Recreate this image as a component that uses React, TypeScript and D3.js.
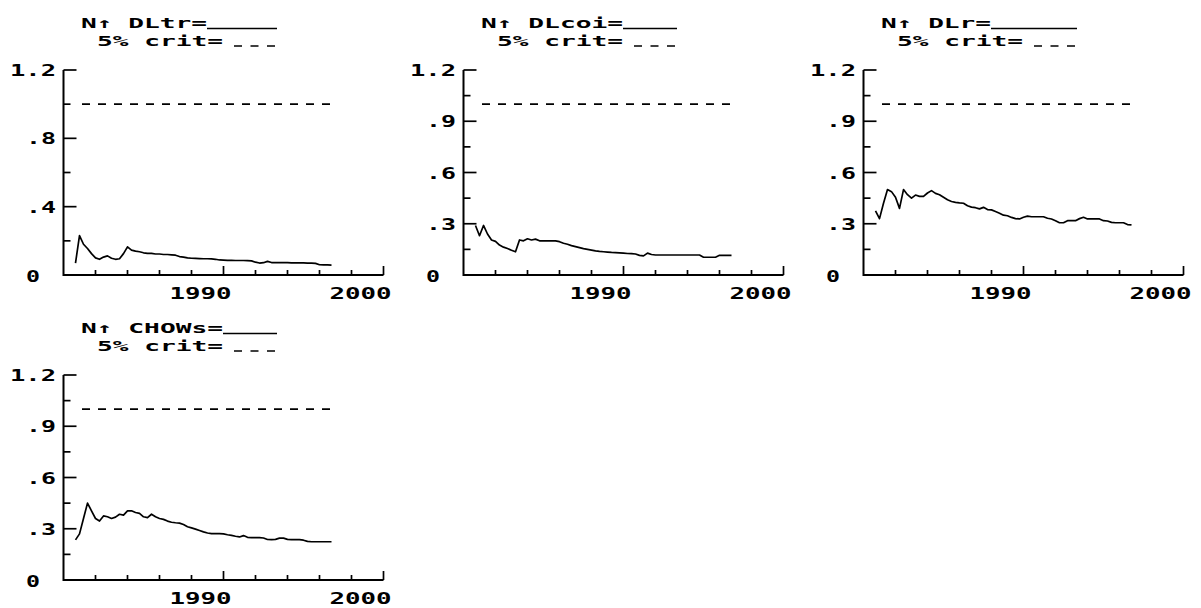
import React from 'react';
import * as d3 from 'd3';

// quarterly observations, first one is 1980 Q4
const firstDate = 1980.75;
const critValue = 1.0;

const dlTr = [
  0.07, 0.23, 0.18, 0.155, 0.125, 0.1, 0.092, 0.105, 0.112, 0.098,
  0.092, 0.095, 0.125, 0.165, 0.146, 0.14, 0.136, 0.13, 0.127, 0.127,
  0.123, 0.123, 0.12, 0.12, 0.118, 0.116, 0.108, 0.105, 0.1, 0.098,
  0.097, 0.096, 0.095, 0.095, 0.094, 0.092, 0.088, 0.087, 0.086, 0.086,
  0.085, 0.085, 0.085, 0.084, 0.083, 0.075, 0.07, 0.072, 0.08, 0.073,
  0.072, 0.072, 0.072, 0.072, 0.071, 0.071, 0.071, 0.071, 0.07, 0.07,
  0.068, 0.06, 0.059, 0.059, 0.058,
];

const dlCoi = [
  0.29, 0.23, 0.29, 0.24, 0.205, 0.197, 0.175, 0.163, 0.155, 0.145,
  0.136, 0.205, 0.2, 0.212, 0.205, 0.21, 0.2, 0.2, 0.2, 0.2,
  0.2, 0.195, 0.186, 0.18, 0.172, 0.166, 0.16, 0.154, 0.15, 0.146,
  0.141, 0.138, 0.136, 0.134, 0.132, 0.131, 0.13, 0.128, 0.126, 0.125,
  0.123, 0.115, 0.112, 0.128, 0.12, 0.117, 0.117, 0.117, 0.117, 0.117,
  0.117, 0.117, 0.117, 0.117, 0.117, 0.117, 0.117, 0.104, 0.104, 0.104,
  0.104, 0.115, 0.115, 0.115, 0.115,
];

const dlR = [
  0.376, 0.33, 0.42, 0.5, 0.488, 0.455, 0.39, 0.5, 0.47, 0.45,
  0.468, 0.46, 0.46, 0.48, 0.494, 0.478, 0.47, 0.455, 0.44, 0.43,
  0.425, 0.422, 0.42, 0.405, 0.397, 0.394, 0.387, 0.396, 0.383, 0.381,
  0.372, 0.362, 0.35, 0.347, 0.337, 0.33, 0.328, 0.338, 0.345, 0.341,
  0.341, 0.341, 0.341, 0.332, 0.328, 0.318, 0.306, 0.306, 0.318, 0.318,
  0.318, 0.33, 0.338, 0.328, 0.328, 0.328, 0.328, 0.318, 0.316, 0.308,
  0.306, 0.306, 0.306, 0.295, 0.293,
];

const chowS = [
  0.235, 0.27, 0.36, 0.45, 0.405, 0.36, 0.345, 0.375, 0.37, 0.36,
  0.368, 0.385, 0.38, 0.405, 0.405, 0.395, 0.39, 0.37, 0.365, 0.385,
  0.37, 0.36, 0.355, 0.345, 0.338, 0.335, 0.333, 0.325, 0.312, 0.305,
  0.298, 0.29, 0.282, 0.275, 0.271, 0.271, 0.271, 0.27, 0.265, 0.261,
  0.256, 0.252, 0.26, 0.25, 0.248, 0.248, 0.248, 0.246, 0.237, 0.236,
  0.238, 0.245, 0.245, 0.238, 0.236, 0.236, 0.236, 0.233, 0.226, 0.224,
  0.224, 0.224, 0.224, 0.224, 0.224,
];

const ticksA = [1.2, 0.8, 0.4, 0];
const minorA = [1.0, 0.6, 0.2];
const labelsA = ['1.2', '.8', '.4', '0'];
const ticksB = [1.2, 0.9, 0.6, 0.3, 0];
const minorB = [1.05, 0.75, 0.45, 0.15];
const labelsB = ['1.2', '.9', '.6', '.3', '0'];

const yearLabels = [1990, 2000];

const panels = [
  { name: 'DLtr', values: dlTr, col: 0, row: 0, ticks: ticksA, minor: minorA, labels: labelsA },
  { name: 'DLcoi', values: dlCoi, col: 1, row: 0, ticks: ticksB, minor: minorB, labels: labelsB },
  { name: 'DLr', values: dlR, col: 2, row: 0, ticks: ticksB, minor: minorB, labels: labelsB },
  { name: 'CHOWs', values: chowS, col: 0, row: 1, ticks: ticksB, minor: minorB, labels: labelsB },
];

const W = 1201;
const H = 608;
const font = '"DejaVu Sans Mono", "Liberation Mono", monospace';
const cell = 16; // advance of one character
const sw = 1.7;

// stretched block-ish text, each char gets a 16px cell
const Txt = ({ x, y, s, anchor = 'start', size = 16 }) => (
  <text x={x} y={y} textAnchor={anchor} fontFamily={font} fontWeight="bold" fontSize={size}
    textLength={s.length * cell - 2} lengthAdjust="spacingAndGlyphs" fill="#000">{s}</text>
);

const Panel = ({ p }) => {
  const dx = p.col * 400;
  const dy = p.row * 305;
  const x = d3.scaleLinear().domain([1980, 2000]).range([63.5, 383.5]);
  const y = d3.scaleLinear().domain([0, 1.2]).range([275, 70]);
  const dates = p.values.map((_, i) => firstDate + i / 4);
  const line = d3.line<number>().x((_, i) => x(dates[i])).y(d => y(d));
  const x0 = x(dates[0]);
  const x1 = x(dates[dates.length - 1]);
  const head = `N\u2191 ${p.name}=`;
  const crit = '5% crit=';

  return (
    <g transform={`translate(${dx},${dy})`}>
      {/* legend */}
      <Txt x={81} y={28} s={head} size={14.5} />
      <line x1={81 + head.length * cell - 2} x2={277} y1={28.5} y2={28.5} stroke="#000" strokeWidth={sw} />
      <Txt x={81 + cell} y={45.5} s={crit} size={14.5} />
      <line x1={234} x2={276} y1={46} y2={46} stroke="#000" strokeWidth={sw} strokeDasharray="8,8.5" />

      {/* axes */}
      <path d={`M${x(1980)},${y(1.2)}V${y(0)}H${x(2000)}`} fill="none" stroke="#000" strokeWidth={2} />
      {p.ticks.map(t => (
        <line key={'t' + t} x1={x(1980)} x2={x(1980) + 13} y1={y(t)} y2={y(t)} stroke="#000" strokeWidth={sw} />
      ))}
      {p.minor.map(t => (
        <line key={'m' + t} x1={x(1980)} x2={x(1980) + 7} y1={y(t)} y2={y(t)} stroke="#000" strokeWidth={sw} />
      ))}
      {p.ticks.map((t, i) => (
        t === 0
          ? <Txt key={'l' + t} x={40} y={y(t) + 6.5} s={p.labels[i]} anchor="end" />
          : <Txt key={'l' + t} x={56} y={y(t) + 6} s={p.labels[i]} anchor="end" />
      ))}
      {d3.range(1982, 2001, 2).map(yr => (
        <line key={'x' + yr} x1={x(yr)} x2={x(yr)} y1={y(0)} y2={y(0) - (yr % 10 === 0 ? 9 : 5)}
          stroke="#000" strokeWidth={sw} />
      ))}
      {yearLabels.map(yr => (
        <Txt key={'y' + yr} x={x(yr) + 8} y={299} s={String(yr)} anchor="end" />
      ))}

      {/* 5% critical value */}
      <line x1={x0} x2={x1} y1={y(critValue)} y2={y(critValue)} stroke="#000" strokeWidth={sw}
        strokeDasharray="8,8" strokeDashoffset={9.5} />
      {/* test statistic */}
      <path d={line(p.values)} fill="none" stroke="#000" strokeWidth={sw} strokeLinejoin="round" />
    </g>
  );
};

export default function App() {
  return (
    <svg width={W} height={H} style={{ position: 'absolute', left: 0, top: 0, background: '#fff' }}>
      <rect width={W} height={H} fill="#fff" />
      {panels.map(p => <Panel key={p.name} p={p} />)}
    </svg>
  );
}
